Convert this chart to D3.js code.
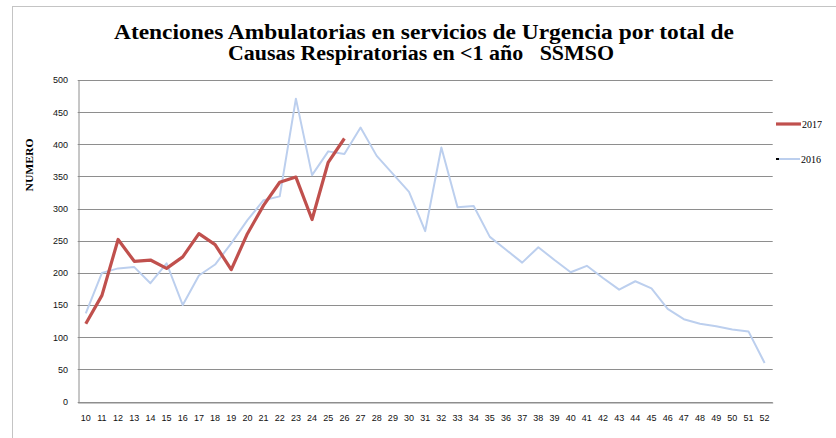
<!DOCTYPE html>
<html>
<head>
<meta charset="utf-8">
<script src="https://cdn.jsdelivr.net/npm/d3@7"></script>
<style>
  html, body { margin: 0; padding: 0; background: #fff; }
  svg { display: block; }
</style>
</head>
<body>
<svg id="chart" width="836" height="438"></svg>
<script>
// ---- data ----
const weeks = d3.range(10, 53).map(String);
const titleLines = ["Atenciones Ambulatorias en servicios de Urgencia por total de", "Causas Respiratorias en <1 año   SSMSO"];
const yTicks = [0, 50, 100, 150, 200, 250, 300, 350, 400, 450, 500];
const seriesNames = ["2017", "2016"];
const values2017 = [121, 165, 252, 218, 220, 207, 225, 261, 244, 205, 261, 305, 341, 349, 283, 372, 409];
const values2016 = [137, 200, 207, 209, 184, 215, 150, 196, 213, 246, 282, 313, 319, 471, 352, 389, 385,
  426, 382, 354, 326, 265, 395, 302, 304, 256, 236, 216, 240, 220, 201, 211, 192, 174, 187, 176, 144,
  128, 121, 117, 112, 109, 60];

// ---- layout ----
const svg = d3.select("#chart");
const L = 77.7, R = 772.7, T = 80, B = 401.5;

svg.append("rect").attr("x", 12.5).attr("y", 6.5).attr("width", 900).attr("height", 500)
  .attr("fill", "#fff").attr("stroke", "#c4c4c4").attr("stroke-width", 1);

const x = d3.scaleBand().domain(weeks).range([L, R]).padding(0);
const y = d3.scaleLinear().domain([0, 500]).range([B, T]);

// gridlines
svg.append("g").selectAll("line").data(yTicks).join("line")
  .attr("x1", L).attr("x2", R)
  .attr("y1", d => Math.round(y(d)) + 0.5).attr("y2", d => Math.round(y(d)) + 0.5)
  .attr("stroke", "#8e8e8e").attr("stroke-width", 1);

// y axis
const yAxis = svg.append("g").attr("transform", `translate(${Math.round(L) + 0.5},0)`)
  .call(d3.axisLeft(y).tickValues(yTicks).tickSize(0).tickPadding(10.5));
yAxis.select(".domain").attr("stroke", "#8e8e8e");
yAxis.selectAll("text").attr("font-family", "'Liberation Sans', Arial, sans-serif")
  .attr("font-size", 9).attr("fill", "#111");

// x axis
const xAxis = svg.append("g").attr("transform", `translate(0,${Math.round(B) + 0.5})`)
  .call(d3.axisBottom(x).tickSize(0).tickPadding(12));
xAxis.select(".domain").attr("stroke", "#8e8e8e");
xAxis.selectAll("text").attr("font-family", "'Liberation Sans', Arial, sans-serif")
  .attr("font-size", 9).attr("fill", "#111");

// lines
const line = d3.line().x((d, i) => x(weeks[i]) + x.bandwidth() / 2).y(d => y(d));
svg.append("path").datum(values2016).attr("d", line)
  .attr("fill", "none").attr("stroke", "#bccfee").attr("stroke-width", 2).attr("stroke-linejoin", "round");
svg.append("path").datum(values2017).attr("d", line)
  .attr("fill", "none").attr("stroke", "#c0504d").attr("stroke-width", 3.2).attr("stroke-linejoin", "round");

// title
svg.append("text").attr("x", 424).attr("y", 39).attr("text-anchor", "middle")
  .attr("font-family", "'Liberation Serif', 'DejaVu Serif', serif").attr("font-weight", "bold")
  .attr("font-size", 20).attr("fill", "#000")
  .attr("textLength", 620).attr("lengthAdjust", "spacingAndGlyphs")
  .text(titleLines[0]);
svg.append("text").attr("x", 421).attr("y", 60).attr("text-anchor", "middle")
  .attr("font-family", "'Liberation Serif', 'DejaVu Serif', serif").attr("font-weight", "bold")
  .attr("font-size", 20).attr("fill", "#000")
  .attr("textLength", 386).attr("lengthAdjust", "spacingAndGlyphs")
  .style("white-space", "pre")
  .text(titleLines[1]);

// y-axis title
svg.append("text").attr("transform", "translate(33,165) rotate(-90)").attr("text-anchor", "middle")
  .attr("font-family", "'Liberation Serif', 'DejaVu Serif', serif").attr("font-weight", "bold")
  .attr("font-size", 10.5).attr("fill", "#000")
  .attr("textLength", 53).attr("lengthAdjust", "spacingAndGlyphs")
  .text("NUMERO");

// legend
const lg = svg.append("g");
lg.append("line").attr("x1", 776).attr("x2", 801).attr("y1", 124).attr("y2", 124)
  .attr("stroke", "#c0504d").attr("stroke-width", 3.2);
lg.append("text").attr("x", 802).attr("y", 127.5)
  .attr("font-family", "'Liberation Serif', serif").attr("font-size", 10).attr("fill", "#000").text(seriesNames[0]);
lg.append("line").attr("x1", 776).attr("x2", 779).attr("y1", 159).attr("y2", 159)
  .attr("stroke", "#000").attr("stroke-width", 2);
lg.append("line").attr("x1", 779).attr("x2", 800).attr("y1", 159).attr("y2", 159)
  .attr("stroke", "#bccfee").attr("stroke-width", 2);
lg.append("text").attr("x", 801).attr("y", 162.5)
  .attr("font-family", "'Liberation Serif', serif").attr("font-size", 10).attr("fill", "#000").text(seriesNames[1]);
</script>
</body>
</html>
